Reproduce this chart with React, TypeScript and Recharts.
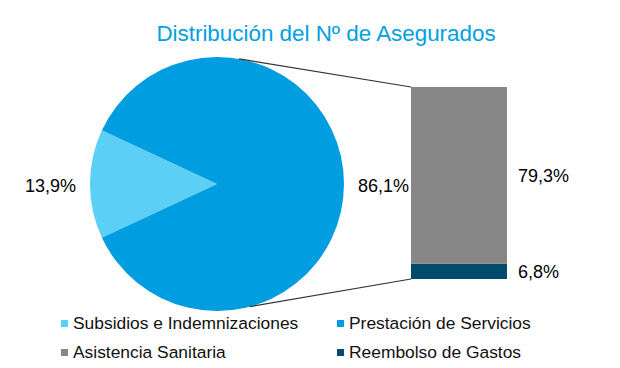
import React, { useEffect } from 'react'
import { PieChart, Pie, Cell, BarChart, Bar, XAxis, YAxis, LabelList } from 'recharts'

// pie: the two big groups
const pieNames = ['Subsidios e Indemnizaciones', 'Prestación de Servicios']
const pieValues = [13.9, 86.1]
const pieColors = ['#5bcff5', '#009ee0']

// bar: breakdown of "Prestación de Servicios" (bottom to top)
const barKeys = ['reembolso', 'asistencia']
const barNames = ['Reembolso de Gastos', 'Asistencia Sanitaria']
const barValues = [6.8, 79.3]
const barColors = ['#004b6b', '#878787']

const legendNames = ['Subsidios e Indemnizaciones', 'Prestación de Servicios', 'Asistencia Sanitaria', 'Reembolso de Gastos']
const legendColors = ['#5bcff5', '#009ee0', '#878787', '#004b6b']

const FONT = '"Liberation Sans", Arial, sans-serif'
const W = 620
const H = 368
const CX = 217
const CY = 184
const R = 127

const fmt = (v: number) => v.toFixed(1).replace('.', ',') + '%'

// point on the pie rim, angle in degrees (counter-clockwise from 3 o'clock)
function rim(deg: number) {
  const a = (deg * Math.PI) / 180
  return { x: CX + R * Math.cos(a), y: CY - R * Math.sin(a) }
}

const pieData = pieNames.map((name, i) => ({ name, value: pieValues[i] }))
const barRow: Record<string, any> = { name: 'Prestación de Servicios' }
barKeys.forEach((k, i) => { barRow[k] = barValues[i] })
const barData = [barRow]

function pieLabel(props: any) {
  const { cx, cy, midAngle, outerRadius, value } = props
  const rad = (midAngle * Math.PI) / 180
  const cos = Math.cos(rad)
  const x = cx + (outerRadius + 14) * cos
  const y = cy - (outerRadius + 14) * Math.sin(rad)
  return (
    <text x={x} y={y + 2} textAnchor={cos >= 0 ? 'start' : 'end'} dominantBaseline="central"
      fill="#000" fontSize={18} fontFamily={FONT}>
      {fmt(value)}
    </text>
  )
}

// stacked segment + connector back to the pie
function segmentShape(which: 'top' | 'bottom') {
  return (props: any) => {
    const { x, y, width, height, fill } = props
    const p = which === 'top' ? rim(80) : rim(-75)
    const ey = which === 'top' ? y : y + height
    return (
      <g>
        <rect x={x} y={y} width={width} height={height} fill={fill} />
        <line x1={p.x} y1={p.y} x2={x} y2={ey} stroke="#333" strokeWidth={1.2} />
      </g>
    )
  }
}

function LegendBox() {
  const cols = [61, 337]
  const rows = [323, 352]
  return (
    <div style={{ position: 'relative', width: W, height: H }}>
      {legendNames.map((name, i) => {
        const left = cols[i % 2]
        const top = rows[Math.floor(i / 2)]
        return (
          <div key={name} style={{ position: 'absolute', left, top: top - 10, height: 20, display: 'flex', alignItems: 'center', fontFamily: FONT, fontSize: 17.4, color: '#111', whiteSpace: 'nowrap' }}>
            <span style={{ display: 'inline-block', width: 7, height: 7, background: legendColors[i], marginRight: 5 }} />
            {name}
          </div>
        )
      })}
    </div>
  )
}

export default function App() {
  useEffect(() => {
    document.body.style.margin = '0'
  }, [])

  return (
    <div style={{ position: 'relative', width: W, height: H, background: '#fff' }}>
      <div style={{ position: 'absolute', left: 0, top: 21, width: 652, textAlign: 'center', fontFamily: FONT, fontSize: 22.4, color: '#00a0e3' }}>
        Distribución del Nº de Asegurados
      </div>
      <div style={{ position: 'absolute', left: 0, top: 0 }}>
        <PieChart width={W} height={H} margin={{ top: 0, right: 0, bottom: 0, left: 0 }}>
          <Pie data={pieData} dataKey="value" nameKey="name" cx={CX} cy={CY} outerRadius={R}
            startAngle={155} endAngle={515} stroke="none" label={pieLabel} labelLine={false}
            isAnimationActive={false}>
            {pieData.map((d, i) => <Cell key={d.name} fill={pieColors[i]} />)}
          </Pie>
        </PieChart>
      </div>
      <div style={{ position: 'absolute', left: 0, top: 0 }}>
        <BarChart width={W} height={H} data={barData} barCategoryGap={0}
          margin={{ top: 87, right: 113, bottom: 89, left: 411 }}>
          <XAxis dataKey="name" hide />
          <YAxis hide domain={[0, 86.1]} />
          {barKeys.map((k, i) => (
            <Bar key={k} dataKey={k} name={barNames[i]} stackId="a" fill={barColors[i]}
              shape={segmentShape(i === 0 ? 'bottom' : 'top')} isAnimationActive={false}>
              <LabelList dataKey={k} position="right" offset={11} formatter={(v: any) => fmt(Number(v))}
                fill="#000" fontSize={18} fontFamily={FONT} />
            </Bar>
          ))}
        </BarChart>
      </div>
      <div style={{ position: 'absolute', left: 0, top: 0 }}>
        <LegendBox />
      </div>
    </div>
  )
}
